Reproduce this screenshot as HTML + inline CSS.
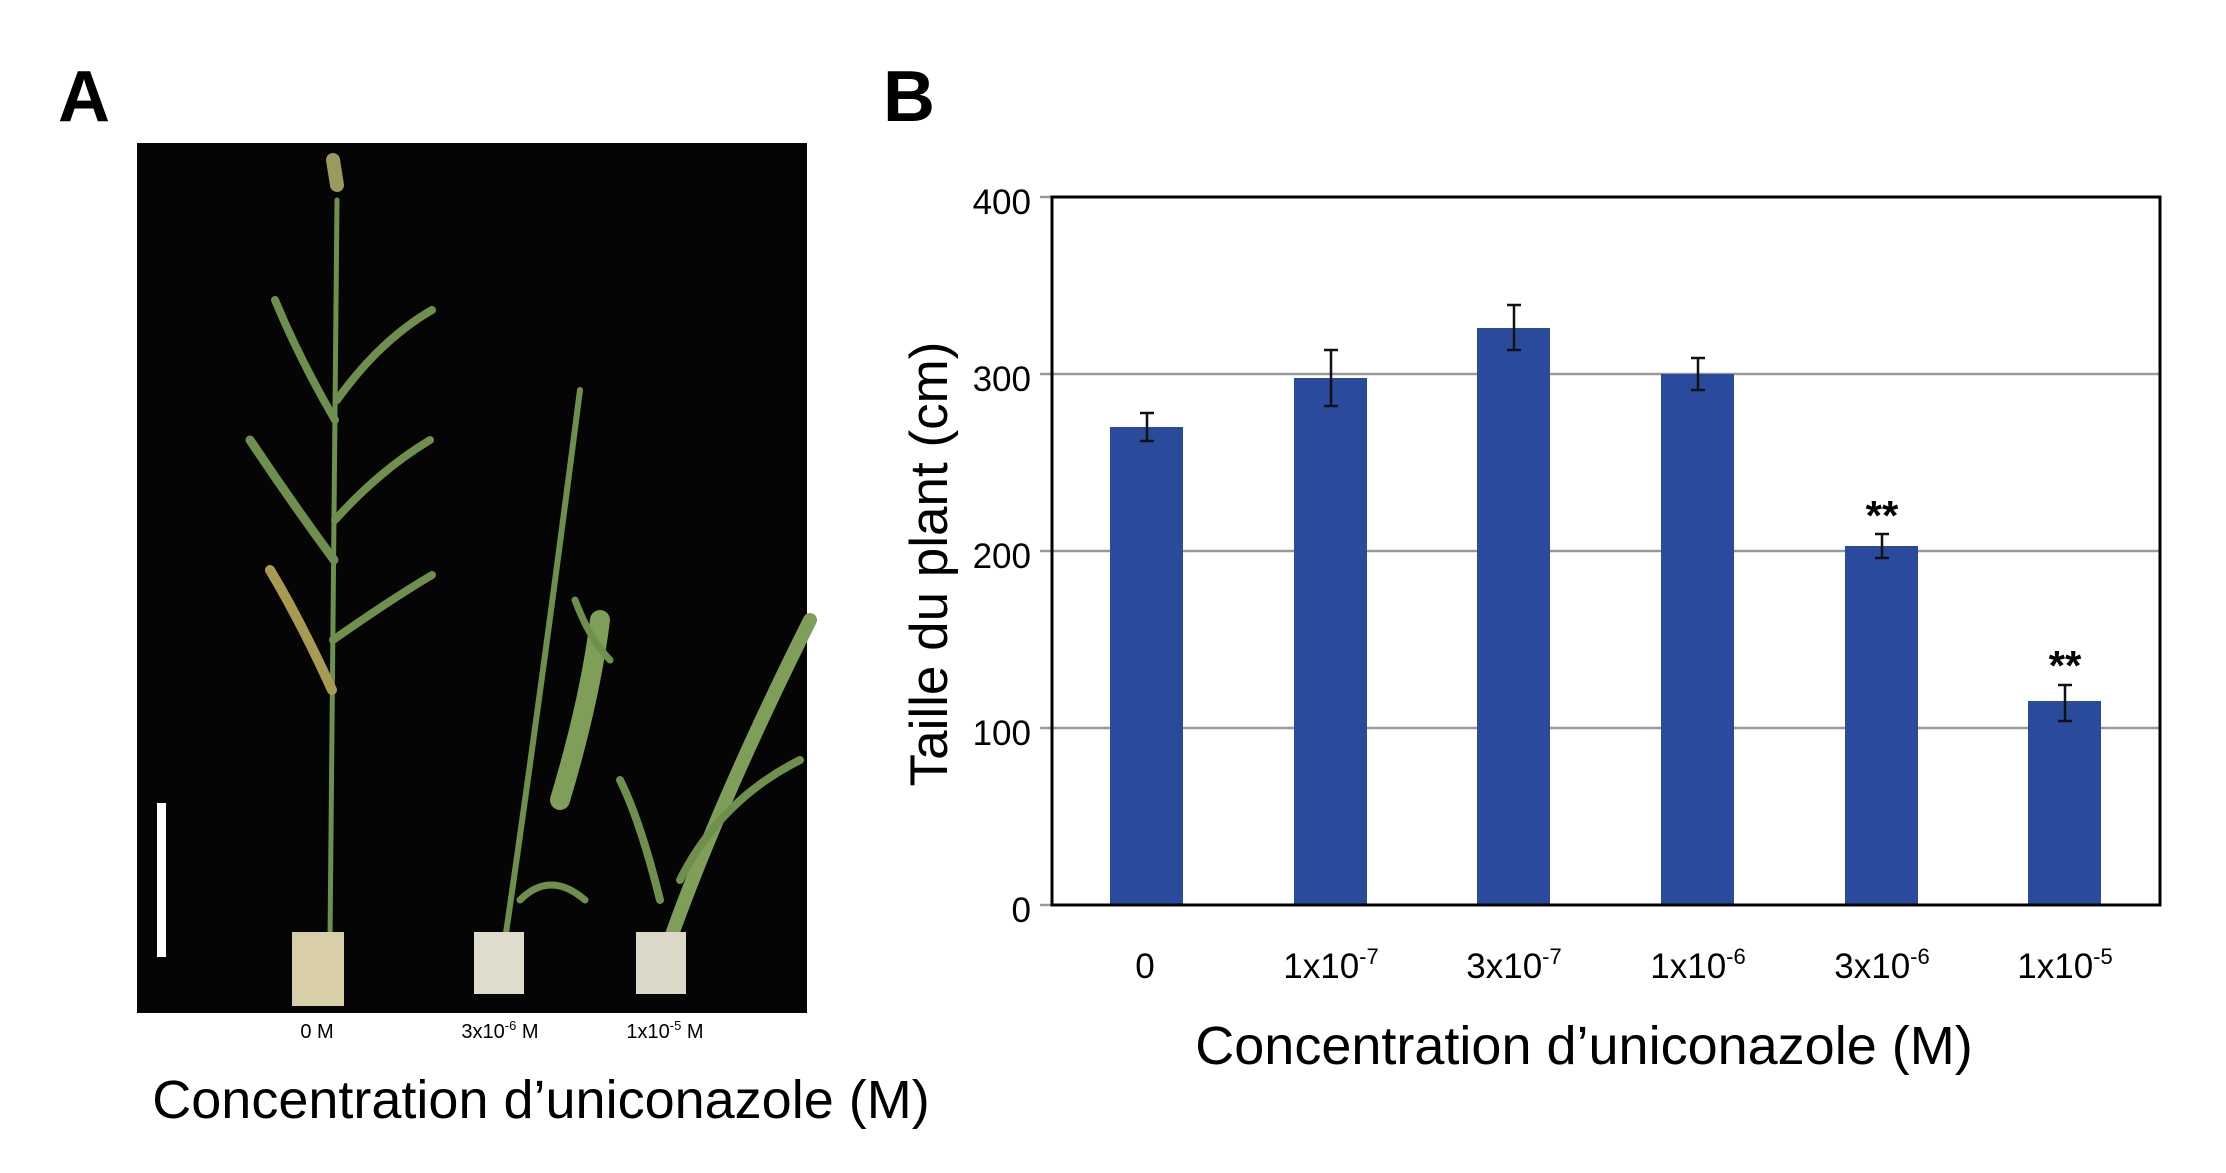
<!DOCTYPE html>
<html><head><meta charset="utf-8"><style>
body{margin:0;background:#fff;}
</style></head><body>
<svg width="2226" height="1168" viewBox="0 0 2226 1168" xmlns="http://www.w3.org/2000/svg" font-family="Liberation Sans, Arial, sans-serif">
<rect width="2226" height="1168" fill="#fff"/>
<!-- Panel A -->
<text x="58" y="121" font-size="72" font-weight="bold">A</text>
<rect x="137" y="143" width="670" height="870" fill="#050505"/>
<rect x="157" y="803" width="9" height="154" fill="#fff"/>
<g stroke="#6f8f4c" fill="none" stroke-linecap="round">
<path d="M330 940 L337 200" stroke-width="5"/>
<path d="M337 185 L333 160" stroke="#9a9a60" stroke-width="14"/>
<path d="M335 420 Q300 360 275 300" stroke-width="8"/>
<path d="M337 400 Q380 340 432 310" stroke-width="8"/>
<path d="M334 560 Q290 500 250 440" stroke-width="9"/>
<path d="M335 520 Q380 470 430 440" stroke-width="8"/>
<path d="M332 690 Q300 620 270 570" stroke="#a89a50" stroke-width="10"/>
<path d="M333 640 Q390 600 432 575" stroke-width="8"/>
<path d="M505 940 Q540 700 580 390" stroke-width="6"/>
<path d="M560 800 Q590 700 600 620" stroke="#7f9f58" stroke-width="20"/>
<path d="M575 600 Q590 640 610 660" stroke-width="7"/>
<path d="M520 900 Q550 870 585 900" stroke-width="7"/>
<path d="M670 940 Q720 800 810 620" stroke="#7f9f58" stroke-width="14"/>
<path d="M660 900 Q640 820 620 780" stroke-width="8"/>
<path d="M680 880 Q720 800 800 760" stroke-width="8"/>
</g>
<rect x="292" y="932" width="52" height="74" fill="#d8cfa8"/>
<rect x="474" y="932" width="50" height="62" fill="#e0dccb"/>
<rect x="636" y="932" width="50" height="62" fill="#dcd8c8"/>
<g font-size="20" text-anchor="middle">
<text x="317" y="1038">0 M</text>
<text x="500" y="1038">3x10<tspan dy="-8" font-size="13">-6</tspan><tspan dy="8"> M</tspan></text>
<text x="665" y="1038">1x10<tspan dy="-8" font-size="13">-5</tspan><tspan dy="8"> M</tspan></text>
</g>
<text x="541" y="1118" font-size="54" text-anchor="middle">Concentration d’uniconazole (M)</text>
<!-- Panel B -->
<text x="883" y="121" font-size="72" font-weight="bold">B</text>
<g stroke="#999" stroke-width="2.5">
<line x1="1052" y1="374" x2="2160" y2="374"/>
<line x1="1052" y1="551" x2="2160" y2="551"/>
<line x1="1052" y1="728" x2="2160" y2="728"/>
<line x1="1040" y1="905" x2="1052" y2="905"/>
<line x1="1040" y1="728" x2="1052" y2="728"/>
<line x1="1040" y1="551" x2="1052" y2="551"/>
<line x1="1040" y1="374" x2="1052" y2="374"/>
<line x1="1040" y1="197" x2="1052" y2="197"/>
</g>
<g fill="#2a4b9b">
<rect x="1110" y="427" width="73" height="478"/>
<rect x="1294" y="378" width="73" height="527"/>
<rect x="1477" y="328" width="73" height="577"/>
<rect x="1661" y="374" width="73" height="531"/>
<rect x="1845" y="546" width="73" height="359"/>
<rect x="2028" y="701" width="73" height="204"/>
</g>
<g stroke="#111" stroke-width="2.5">
<path d="M1147 413V441M1140 413H1154M1140 441H1154"/>
<path d="M1331 350V406M1324 350H1338M1324 406H1338"/>
<path d="M1514 305V350M1507 305H1521M1507 350H1521"/>
<path d="M1698 358V390M1691 358H1705M1691 390H1705"/>
<path d="M1882 534V558M1875 534H1889M1875 558H1889"/>
<path d="M2065 685V721M2058 685H2072M2058 721H2072"/>
</g>
<rect x="1052" y="197" width="1108" height="708" fill="none" stroke="#000" stroke-width="3"/>
<g font-size="42" font-weight="bold" text-anchor="middle">
<text x="1882" y="530">**</text>
<text x="2065" y="680">**</text>
</g>
<g font-size="35" text-anchor="end">
<text x="1031" y="922">0</text>
<text x="1031" y="745">100</text>
<text x="1031" y="568">200</text>
<text x="1031" y="391">300</text>
<text x="1031" y="214">400</text>
</g>
<g font-size="35" text-anchor="middle">
<text x="1145" y="978">0</text>
<text x="1331" y="978">1x10<tspan dy="-14" font-size="22">-7</tspan></text>
<text x="1514" y="978">3x10<tspan dy="-14" font-size="22">-7</tspan></text>
<text x="1698" y="978">1x10<tspan dy="-14" font-size="22">-6</tspan></text>
<text x="1882" y="978">3x10<tspan dy="-14" font-size="22">-6</tspan></text>
<text x="2065" y="978">1x10<tspan dy="-14" font-size="22">-5</tspan></text>
</g>
<text x="1584" y="1064" font-size="54" text-anchor="middle">Concentration d’uniconazole (M)</text>
<text transform="translate(947,564) rotate(-90)" font-size="53" text-anchor="middle">Taille du plant (cm)</text>
</svg>
</body></html>
